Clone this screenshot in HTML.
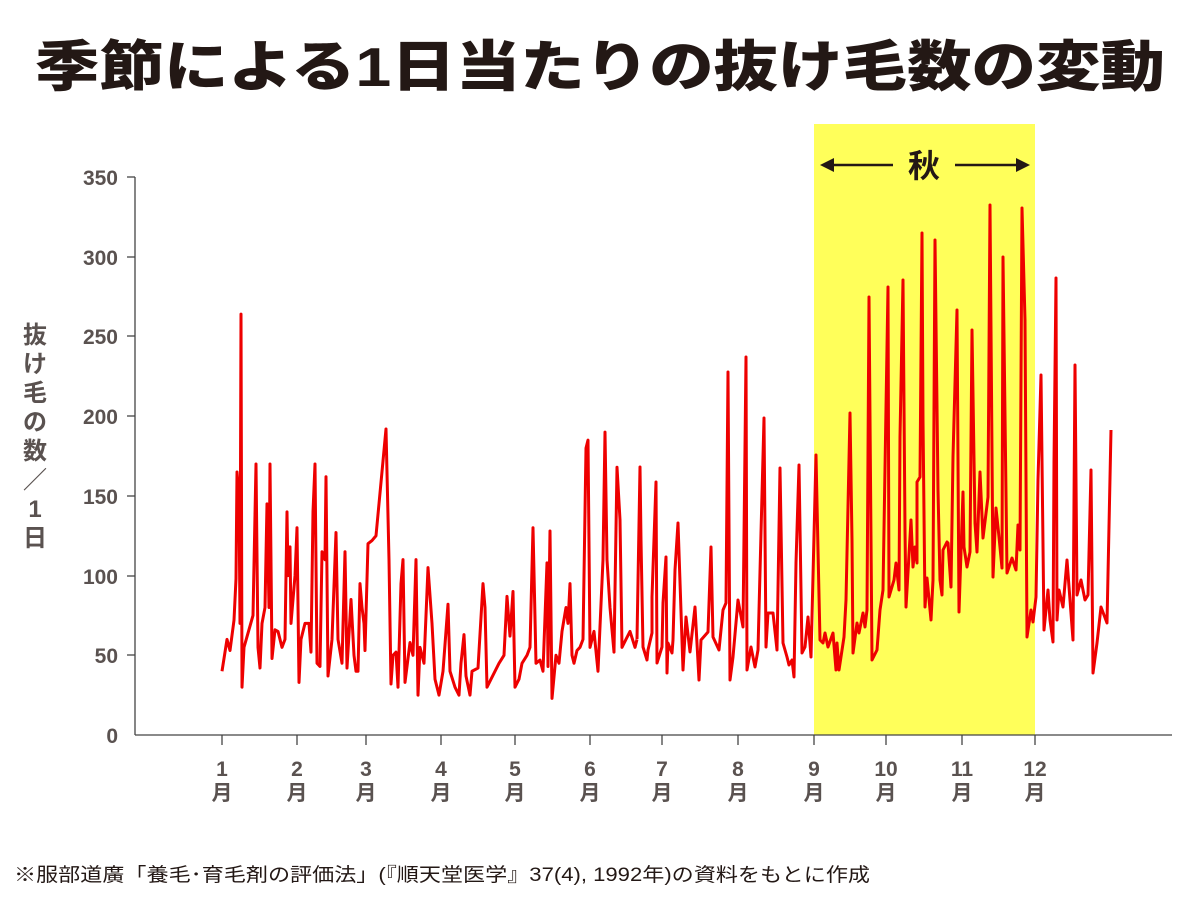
<!DOCTYPE html>
<html><head><meta charset="utf-8"><style>
body{margin:0;background:#fff;}
svg text{font-family:"Liberation Sans","Noto Sans CJK JP",sans-serif;}
</style></head><body>
<svg width="1200" height="900" viewBox="0 0 1200 900" xmlns="http://www.w3.org/2000/svg">
<rect width="1200" height="900" fill="#fff"/>
<text x="600" y="86" text-anchor="middle" font-size="55" font-weight="900" fill="#231815" textLength="1130" lengthAdjust="spacingAndGlyphs">季節による1日当たりの抜け毛数の変動</text>
<rect x="814" y="124" width="221" height="611" fill="#ffff5a"/>
<g stroke="#231815" stroke-width="2.5" fill="#231815">
<line x1="830" y1="165" x2="893" y2="165"/><polygon points="820,165 834,158 834,172" stroke="none"/>
<line x1="955" y1="165" x2="1018" y2="165"/><polygon points="1030,165 1016,158 1016,172" stroke="none"/>
</g>
<text x="924" y="177" text-anchor="middle" font-size="32" font-weight="bold" fill="#231815">秋</text>
<g stroke="#444" stroke-width="1.3">
<line x1="135" y1="177" x2="135" y2="735"/>
<line x1="135" y1="735" x2="1172" y2="735"/>
<line x1="127" y1="177" x2="135" y2="177"/><line x1="127" y1="257" x2="135" y2="257"/><line x1="127" y1="336" x2="135" y2="336"/><line x1="127" y1="416" x2="135" y2="416"/><line x1="127" y1="496" x2="135" y2="496"/><line x1="127" y1="576" x2="135" y2="576"/><line x1="127" y1="655" x2="135" y2="655"/>
<line x1="222" y1="735" x2="222" y2="745"/><line x1="297" y1="735" x2="297" y2="745"/><line x1="366" y1="735" x2="366" y2="745"/><line x1="441" y1="735" x2="441" y2="745"/><line x1="515" y1="735" x2="515" y2="745"/><line x1="590" y1="735" x2="590" y2="745"/><line x1="662" y1="735" x2="662" y2="745"/><line x1="738" y1="735" x2="738" y2="745"/><line x1="814" y1="735" x2="814" y2="745"/><line x1="886" y1="735" x2="886" y2="745"/><line x1="962" y1="735" x2="962" y2="745"/><line x1="1035" y1="735" x2="1035" y2="745"/>
</g>
<g font-size="21" font-weight="bold" fill="#5a5250" text-anchor="end">
<text x="118" y="185">350</text><text x="118" y="265">300</text><text x="118" y="344">250</text><text x="118" y="424">200</text><text x="118" y="504">150</text><text x="118" y="584">100</text><text x="118" y="663">50</text><text x="118" y="743">0</text>
</g>
<g font-size="21" font-weight="bold" fill="#5a5250" text-anchor="middle">
<text x="222" y="776">1</text><text x="222" y="800">月</text>
<text x="297" y="776">2</text><text x="297" y="800">月</text>
<text x="366" y="776">3</text><text x="366" y="800">月</text>
<text x="441" y="776">4</text><text x="441" y="800">月</text>
<text x="515" y="776">5</text><text x="515" y="800">月</text>
<text x="590" y="776">6</text><text x="590" y="800">月</text>
<text x="662" y="776">7</text><text x="662" y="800">月</text>
<text x="738" y="776">8</text><text x="738" y="800">月</text>
<text x="814" y="776">9</text><text x="814" y="800">月</text>
<text x="886" y="776">10</text><text x="886" y="800">月</text>
<text x="962" y="776">11</text><text x="962" y="800">月</text>
<text x="1035" y="776">12</text><text x="1035" y="800">月</text>
</g>
<g font-size="24" font-weight="bold" fill="#5a5250" text-anchor="middle">
<text x="35" y="343">抜</text><text x="35" y="372">け</text><text x="35" y="401">毛</text><text x="35" y="430">の</text><text x="35" y="459">数</text><text x="35" y="488">／</text><text x="35" y="517">1</text><text x="35" y="546">日</text>
</g>
<g fill="none" stroke="#ee0000" stroke-width="3" stroke-linejoin="round">
<polyline vector-effect="non-scaling-stroke" transform="translate(0,735) scale(1,-1.594)" points="222,40 227,60 230,53 234,72 236,98 237,165 239,150 240,70 241,264 242,30 244,55 253,75 256,170 258,55 260,42 262,70 265,80 267,145 269,80 270,170 272,48 275,66 278,65 282,55 285,60 287,140 288,100 290,118 291,70 295,100 297,130 299,33 301,60 305,70 309,70 311,52 313,140 315,170 317,45 320,43 322,115 325,110 326,162 328,37 332,60 336,127 338,60 342,45 345,115 347,42 351,85 354,50 356,40 358,40 360,95 362,80 364,70 365,53 368,120 372,122 376,125 386,192 389,110 391,32 393,50 396,52 398,30 401,95 403,110 405,33 410,58 413,50 416,110 418,25 420,55 424,45 428,105 432,70 435,35 439,25 443,40 448,82 450,40 455,30 459,25 461,45 464,63 466,37 470,25 472,40 478,42 483,95 485,80 487,30 491,35 499,45 504,50 507,87 510,62 513,90 515,30 519,35 522,45 527,50 530,55 533,130 536,45 540,47 543,40 547,108 548,43 550,128 552,23 556,50 559,45 562,65 566,80 568,70 570,95 572,50 574,45 577,53 580,55 583,60 586,180 588,185 590,55 594,65 598,40 603,110 605,190 607,110 610,80 614,52 617,168 620,135 622,55 626,60 630,65 635,55 637,60"/>
<polyline points="637,639 640,467 641,540 643,647 647,660 648,650 652,633 652,597 656,482 657,663 662,647 663,603 666,557 667,673 668,643 672,653 673,640 675,570 678,523 683,670 686,617 690,652 695,607 699,680 701,640 708,632 711,547 713,637 719,650 723,610 726,603 728,372 730,680 733,657 738,600 743,627 746,357 747,670 751,647 755,667 758,650 761,533 764,418 766,647 768,613 773,613 777,650 780,468 783,643 787,657 789,665 792,660 794,677 796,563 799,465 802,653 805,647 808,617 811,657 816,455 818,550 820,640 823,643 825,633 828,647 833,633 836,670 837,643 839,670 844,637 846,600 850,413 852,540 853,653 857,623 859,633 863,613 865,627 867,610 869,297 872,660 877,650 880,610 883,590 888,287 889,597 894,580 896,563 899,590 900,437 903,280 905,530 906,607 911,520 913,567 915,547 917,563 917,482 920,477 922,233 923,420 925,607 927,578 931,620 933,580 935,240 938,490 940,580 942,595 943,550 947,542 948,543 951,587 953,457 957,310 959,612 963,492 964,547 967,567 970,552 972,330 975,523 977,552 980,472 983,538 988,497 990,205 993,577 996,508 999,537 1002,568 1003,257 1007,573 1012,558 1016,570 1018,525 1020,550 1022,208 1025,320 1027,637 1031,610 1033,622 1036,597 1038,480 1041,375 1044,630 1048,590 1050,620 1053,642 1054,463 1056,278 1057,620 1059,590 1063,607 1067,560 1073,640 1075,365 1077,595 1081,580 1085,600 1088,595 1091,470 1093,673 1097,643 1101,607 1107,623 1111,430"/>
</g>
<text x="14" y="881" font-size="19" fill="#231815" textLength="856" lengthAdjust="spacingAndGlyphs">※服部道廣「養毛･育毛剤の評価法」(『順天堂医学』37(4), 1992年)の資料をもとに作成</text>
</svg>
</body></html>
